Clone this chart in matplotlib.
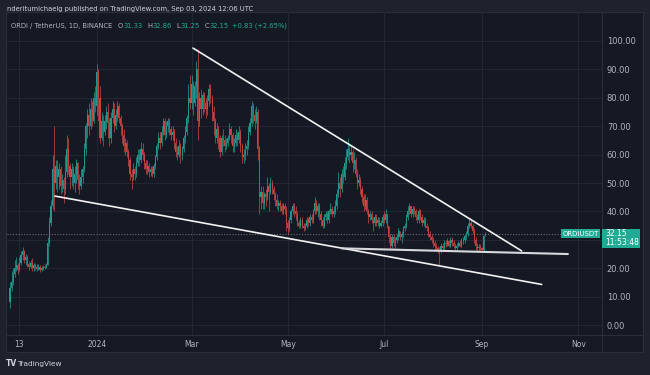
import matplotlib
matplotlib.use("Agg")
import matplotlib.pyplot as plt
import matplotlib.dates as mdates
import matplotlib.transforms as mtransforms
from matplotlib.patches import Rectangle
import numpy as np
import pandas as pd

#================================ data (ORDI / USDT, 1D) ================================#
first_day = "2023-11-07"
first_open = 8.0

closes = [
    # Nov 7 - Nov 30
    13, 15, 18, 20, 21, 19.5, 22, 24.5, 26, 23, 24, 21.5, 20.5, 22, 20, 21, 20.5, 19.8, 20.5, 19.5, 20, 20.5, 20.2, 21,
    # Dec
    29, 36, 42, 55, 50, 56, 52, 55, 49, 51, 48, 54, 62, 56, 52, 55, 50, 53, 57, 51, 49, 52, 55, 62, 70, 74, 70, 76, 72, 80, 77,
    # Jan
    89, 80, 66, 72, 68, 72, 75, 71, 66, 73, 76, 70, 74, 77, 73, 70, 67, 63, 64, 61, 58, 53, 52, 55, 53, 57, 60, 58, 62, 60, 57,
    # Feb
    55, 56, 54, 55, 53, 56, 59, 63, 66, 64, 68, 72, 67, 70, 72, 69, 67, 68, 64, 61, 60, 63, 60, 62, 66, 68, 73, 80, 78,
    # Mar
    85, 78, 84, 90, 72, 80, 76, 81, 78, 76, 79, 83, 80, 75, 72, 66, 69, 66, 61, 66, 65, 63, 64, 66, 69, 67, 63, 64, 67, 65, 68,
    # Apr
    63, 59, 60, 62, 63, 68, 71, 77, 74, 72, 75, 62, 45, 47, 43, 46, 45, 49, 47, 50, 48, 46, 44, 42, 43, 42, 40, 42, 41, 36,
    # May
    34, 37, 40, 42, 40, 39, 36, 35, 37, 35, 34, 35, 37, 36, 38, 37, 40, 43, 40, 42, 39, 37, 35, 38, 39, 37, 40, 41, 39, 40, 42,
    # Jun
    46, 50, 48, 53, 52, 57, 59, 62, 60, 61, 57, 58, 53, 50, 51, 48, 45, 42, 44, 40, 38, 39, 37, 36, 38, 36, 37, 35, 36, 38,
    # Jul
    37, 39, 35, 31, 28, 31, 29, 30, 31, 33, 31, 32, 34, 35, 38, 40, 42, 39, 41, 40, 38, 37, 40, 38, 36, 37, 35, 34, 32, 31, 30,
    # Aug
    29, 28, 27, 26.5, 26, 28, 27, 29, 28.5, 29.5, 28, 30, 29, 28, 27, 28, 29, 28, 29.5, 30, 31.5, 32, 35, 36, 35, 33, 30, 28, 27, 27.5, 27,
    # Sep 1 - 3
    26.5, 31.33, 32.15,
]
highs = [
    15, 19, 20, 23, 24, 22, 24, 26, 27.5, 26.5, 25, 24.5, 22.5, 23, 23.5, 22, 22, 21.5, 21.5, 21, 20.8, 21.2, 21.5, 21.8,
    31, 38, 44, 60, 70, 58, 58, 57, 56, 53, 52, 60, 67, 66, 57, 57, 56, 56, 58.5, 57.5, 53, 55, 56, 64, 71, 76, 78, 80, 79, 82, 84,
    92, 90, 84, 75, 74, 74, 77, 78, 73, 75, 79, 78, 76, 79, 78, 74, 71, 69, 66, 65, 62, 59, 55, 57, 56, 59, 62, 62, 64.5, 64, 61,
    58, 58, 57, 56, 56, 57, 60, 64, 68, 68, 70, 73, 73, 72, 73, 73, 70, 70, 69, 66, 63, 65, 64, 63, 67, 70, 74, 85, 88,
    88, 86, 86, 93, 97, 82, 83, 82, 82, 80, 81, 85, 85, 81, 77, 73, 71, 70, 67, 67, 69, 67, 66, 67, 71, 70, 68, 66, 69, 68, 70,
    69, 64, 62, 64, 65, 70, 73, 79, 78, 76, 77, 76, 63, 49, 49, 47, 48, 52, 50, 52, 51, 49, 47, 46, 44, 44, 43, 43, 43, 42,
    37, 38, 41, 43, 43, 42, 40, 37, 38, 38, 36, 36, 38, 38, 39, 39, 41, 45, 44, 43, 43, 40, 38, 39, 40, 40, 41, 43, 42, 42, 44,
    48, 54, 52, 55, 56, 59, 62, 66, 64, 63, 62, 61, 59, 55, 53, 52, 49, 46, 46, 45, 41, 40, 40, 38, 39, 39, 38, 38, 37, 39,
    40, 41, 39, 35, 32, 32, 32, 31, 32, 34, 33, 33, 35, 36, 39, 42, 43, 42, 42, 42, 41, 39, 41, 41, 39, 38, 38, 36, 35, 33, 32,
    31, 30, 29, 28, 27.5, 29, 29, 30, 30, 30.5, 30, 31, 31, 30, 29, 29, 29.5, 30, 30.5, 31, 32, 33, 36, 37.5, 37, 36, 34, 31, 29, 28.5, 28.5,
    27.5, 31.6, 32.86,
]
lows = [
    6, 12, 14, 17, 19, 18, 19, 21, 23, 22, 21, 20.5, 19.5, 20, 19, 19, 19.5, 19, 19.5, 18.8, 19, 19.5, 19.8, 20,
    21, 28, 35, 41, 40, 48, 47, 48, 46, 47, 43, 46, 52, 53, 48, 49, 48, 47, 50, 48, 46, 48, 50, 54, 60, 66, 67, 69, 70, 71, 75,
    74, 72, 64, 65, 63, 67, 69, 66, 63, 64, 71, 68, 69, 72, 71, 67, 64, 61, 60, 59, 56, 51, 48, 51, 51, 52, 56, 56, 57, 58, 55,
    53, 53, 52, 52.5, 52, 52, 55, 58, 62, 62, 63, 67, 65, 66, 68, 67, 65, 65, 62, 59, 58, 59, 57, 58, 61, 64, 67, 71, 76,
    76, 74, 77, 80, 65, 70, 73, 74, 75, 73, 74, 77, 78, 72, 67, 64, 64, 62, 59, 60, 63, 61, 62, 63, 65, 64, 61, 61, 63, 63, 64,
    61, 57, 57, 58, 60, 62, 67, 70, 71, 69, 71, 58, 39, 41, 41, 41, 42, 44, 40, 46, 46, 44, 42, 41, 40, 40, 39, 39, 39, 33,
    32, 33, 36, 39, 38, 37, 35, 34, 34, 34, 33, 33.5, 34, 35, 35, 36, 36, 39, 39, 38, 37, 35, 34, 34, 37, 36, 36, 39, 38, 38, 39,
    41, 45, 45, 47, 50, 51, 55, 58, 57, 58, 54, 55, 52, 48, 49, 46, 43, 40, 41, 39, 36, 37, 36, 33, 35, 35, 35, 34, 34.5, 35,
    36, 36, 34, 29, 26.5, 27, 28, 27, 29, 30, 30, 29, 31, 33, 34, 37, 39, 38, 38, 39, 37, 36, 36, 37, 35, 35, 34, 33, 31, 30, 29,
    27.5, 26.5, 26, 25.5, 21, 25.5, 26, 26.5, 27.5, 28, 27.5, 27.5, 28, 27, 26.5, 26.5, 27.5, 27.5, 27.5, 28.5, 29, 30, 31.5, 34, 34, 32, 29, 26.5, 26, 26, 26.5,
    25.8, 26.2, 31.25,
]

price_ticks = [0, 10, 20, 30, 40, 50, 60, 70, 80, 90, 100]
hidden_tick = 30  # covered by the last-price label
time_ticks = ["2023-11-13", "2024-01-01", "2024-03-01", "2024-05-01", "2024-07-01", "2024-09-01", "2024-11-01"]
time_labels = ["13", "2024", "Mar", "May", "Jul", "Sep", "Nov"]

# hand-drawn trend lines: (dates, prices)
upper_line = (["2024-03-01 22:00", "2024-09-26 02:00"], [97.5, 26.1])
lower_line = (["2023-12-05 12:00", "2024-10-08 19:00"], [45.4, 14.3])
base_line = (["2024-06-04 02:00", "2024-10-25 10:00"], [27.0, 25.0])

last_price = 32.15
clock_text = "11:53:48"
ohlc_text = [("O", "31.33"), ("H", "32.86"), ("L", "31.25"), ("C", "32.15")]
change_text = "+0.83 (+2.65%)"

#================================ style ================================#
bg_outer = "#1e222d"
bg_panel = "#151924"
grid_col = "#232734"
txt_col = "#b2b5be"
up_col = "#22978c"
down_col = "#c4423f"
tv_teal = "#22ab94"

W, H = 650, 375
fig = plt.figure(figsize=(W / 100, H / 100), dpi=100, facecolor=bg_outer)

# chart panel (pixels: x 6..643, y 12..352)
fig.patches.append(Rectangle((6 / W, 1 - 352 / H), 637 / W, 340 / H, transform=fig.transFigure,
                             facecolor=bg_panel, edgecolor="#2a2e39", linewidth=0.8, zorder=-5))
# time axis / price axis separators
fig.add_artist(plt.Line2D([6 / W, 643 / W], [1 - 335 / H, 1 - 335 / H], transform=fig.transFigure, color="#2a2e39", lw=0.8, zorder=-4))
fig.add_artist(plt.Line2D([602 / W, 602 / W], [1 - 352 / H, 1 - 12 / H], transform=fig.transFigure, color="#2a2e39", lw=0.8, zorder=-4))

ax = fig.add_axes([7 / W, 1 - 335 / H, 595 / W, 323 / H])
ax.set_facecolor("none")

#================================ candles ================================#
dates = pd.date_range(first_day, periods=len(closes), freq="D")
x = mdates.date2num(dates)
c = np.array(closes, dtype=float)
o = np.r_[first_open, c[:-1]]
hi = np.maximum(np.array(highs, dtype=float), np.maximum(o, c))
lo = np.minimum(np.array(lows, dtype=float), np.minimum(o, c))
cols = np.where(c >= o, up_col, down_col)

ax.vlines(x, lo, hi, colors=cols, linewidth=0.55, zorder=3)
ax.bar(x, np.maximum(np.abs(c - o), 0.25), bottom=np.minimum(o, c), width=0.7, color=cols, linewidth=0, zorder=3)

#================================ trend lines ================================#
for (d, p), lw, col in [(upper_line, 1.2, "#f2f2f2"), (lower_line, 1.2, "#f2f2f2"), (base_line, 1.5, "#d6d8dc")]:
    ax.plot(mdates.date2num(pd.to_datetime(d)), p, color=col, lw=lw, solid_capstyle="round", zorder=5)

# last price line
ax.axhline(last_price, color="#6a6d78", lw=0.8, ls=(0, (1, 1.5)), zorder=2)

#================================ axes ================================#
jan1 = mdates.date2num(pd.Timestamp("2024-01-01"))
ax.set_xlim(jan1 - 56.9, jan1 + 320.0)
ax.set_ylim(-3.5, 110.2)

ax.set_yticks(price_ticks)
ax.set_yticklabels(["" if v == hidden_tick else f"{v:.2f}" for v in price_ticks])
ax.yaxis.tick_right()
ax.set_xticks(mdates.date2num(pd.to_datetime(time_ticks)))
ax.set_xticklabels(time_labels)
ax.tick_params(axis="y", length=0, pad=3.5, labelsize=6, labelcolor=txt_col)
ax.tick_params(axis="x", length=0, pad=3.5, labelsize=5.5, labelcolor=txt_col)
ax.grid(True, color=grid_col, lw=0.8, zorder=0)
ax.set_axisbelow(True)
for s in ax.spines.values():
    s.set_visible(False)

#================================ last price labels ================================#
blend = mtransforms.blended_transform_factory(ax.transAxes, ax.transData)
ax.add_patch(Rectangle((1.0, last_price - 5.15), 38 / 595, 6.8, transform=blend,
                       facecolor=tv_teal, edgecolor="none", clip_on=False, zorder=6))
ax.annotate(f"{last_price:.2f}", xy=(1, last_price), xycoords=blend, xytext=(2.6, 0), textcoords="offset points",
            ha="left", va="center", fontsize=5.5, color="white", annotation_clip=False, zorder=7)
ax.annotate(clock_text, xy=(1, last_price), xycoords=blend, xytext=(2.6, -6.4), textcoords="offset points",
            ha="left", va="center", fontsize=5.5, color="white", annotation_clip=False, zorder=7)
ax.annotate("ORDIUSDT", xy=(1, last_price), xycoords=blend, xytext=(-2.5, 0), textcoords="offset points",
            ha="right", va="center", fontsize=5, color="white", annotation_clip=False,
            bbox=dict(boxstyle="square,pad=0.2", fc=tv_teal, ec="none"), zorder=6)

#================================ header / footer ================================#
fig.text(7 / W, 1 - 9 / H, "nderitumichaelg published on TradingView.com, Sep 03, 2024 12:06 UTC",
         fontsize=4.9, color="#d1d4dc", ha="left", va="center")

prev = fig.text(11 / W, 1 - 26 / H, "ORDI / TetherUS, 1D, BINANCE", fontsize=4.9, color=txt_col, ha="left", va="center")
for k, v in ohlc_text:
    a = ax.annotate(k, xy=(1, 0), xycoords=prev, xytext=(4 if k == "O" else 3, 0), textcoords="offset points",
                    fontsize=4.9, color=txt_col, ha="left", va="bottom", annotation_clip=False)
    prev = ax.annotate(v, xy=(1, 0), xycoords=a, xytext=(0.5, 0), textcoords="offset points",
                       fontsize=4.9, color=tv_teal, ha="left", va="bottom", annotation_clip=False)
ax.annotate(change_text, xy=(1, 0), xycoords=prev, xytext=(2.5, 0), textcoords="offset points",
            fontsize=4.9, color=tv_teal, ha="left", va="bottom", annotation_clip=False)

fig.text(6 / W, 1 - 364 / H, "TV", fontsize=5.5, fontweight="bold", color="#d1d4dc", ha="left", va="center")
fig.text(17 / W, 1 - 364 / H, "TradingView", fontsize=5.3, color="#d1d4dc", ha="left", va="center")

fig.savefig("out.png", dpi=100, facecolor=bg_outer)
